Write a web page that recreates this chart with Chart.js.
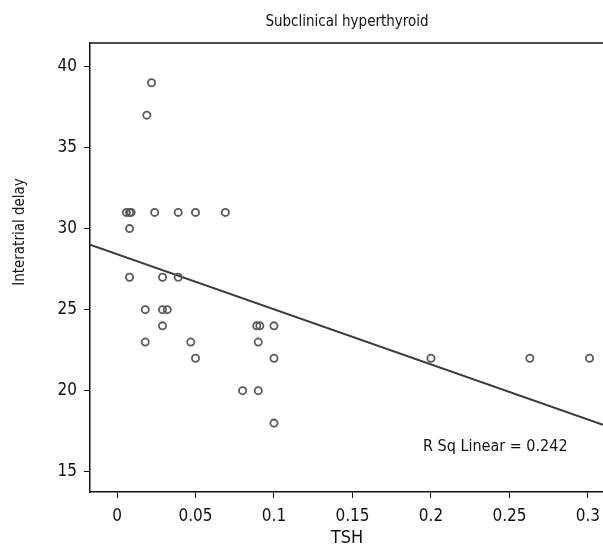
<!DOCTYPE html>
<html>
<head>
<meta charset="utf-8">
<script src="https://cdn.jsdelivr.net/npm/chart.js@4.4.1/dist/chart.umd.min.js"></script>
<style>
  body { margin: 0; background: #fff; }
  #wrap { width: 603px; height: 550px; }
</style>
</head>
<body>
<div id="wrap"><canvas id="scatter"></canvas></div>
<script>
// values
const tsh = [0.022, 0.019, 0.006, 0.008, 0.009, 0.024, 0.039, 0.05, 0.069, 0.008,
             0.008, 0.029, 0.039, 0.018, 0.029, 0.032, 0.029, 0.018, 0.047, 0.05,
             0.089, 0.091, 0.1, 0.09, 0.1, 0.08, 0.09, 0.1, 0.2, 0.263, 0.301];
const delay = [39, 37, 31, 31, 31, 31, 31, 31, 31, 30,
               27, 27, 27, 25, 25, 25, 24, 23, 23, 22,
               24, 24, 24, 23, 22, 20, 20, 18, 22, 22, 22];
// fit line ends as drawn
const fitX = [-0.0172, 0.3096];
const fitY = [29.0, 17.9];
const xTicks = [0, 0.05, 0.1, 0.15, 0.2, 0.25, 0.3];
const yTicks = [15, 20, 25, 30, 35, 40];
const chartTitle = "Subclinical hyperthyroid";
const xTitle = "TSH";
const yTitle = "Interatrial delay";
const rsqText = "R Sq Linear = 0.242";

const font = "'Liberation Sans Narrow', 'DejaVu Sans Condensed', 'Arial Narrow', sans-serif";

const points = tsh.map((v, i) => ({ x: v, y: delay[i] }));
const fitLine = fitX.map((v, i) => ({ x: v, y: fitY[i] }));

const extras = {
  id: "extras",
  afterDraw(chart) {
    const ctx = chart.ctx;
    const a = chart.chartArea;
    ctx.save();
    // top frame line
    ctx.strokeStyle = "#111";
    ctx.lineWidth = 1.5;
    ctx.beginPath();
    ctx.moveTo(a.left, a.top);
    ctx.lineTo(a.right, a.top);
    ctx.stroke();
    ctx.fillStyle = "#111";
    ctx.textAlign = "center";
    ctx.textBaseline = "middle";
    ctx.font = "15px " + font;
    ctx.fillText(chartTitle, 347, 22);
    ctx.font = "18px " + font;
    ctx.fillText(xTitle, 347, 538);
    ctx.save();
    ctx.translate(20, 232);
    ctx.rotate(-Math.PI / 2);
    ctx.font = "15px " + font;
    ctx.fillText(yTitle, 0, 0);
    ctx.restore();
    ctx.textAlign = "left";
    ctx.font = "16px " + font;
    ctx.fillText(rsqText, 423, 447);
    ctx.restore();
  }
};

new Chart(document.getElementById("scatter"), {
  type: "scatter",
  data: {
    datasets: [
      {
        label: "points",
        data: points,
        pointStyle: "circle",
        pointRadius: 3.6,
        pointBorderWidth: 1.8,
        pointBorderColor: "#5a5a5a",
        pointBackgroundColor: "rgba(255,255,255,0)"
      },
      {
        label: "fit",
        data: fitLine,
        showLine: true,
        pointRadius: 0,
        borderColor: "#3a3a3a",
        borderWidth: 2
      }
    ]
  },
  plugins: [extras],
  options: {
    responsive: true,
    maintainAspectRatio: false,
    animation: false,
    layout: { autoPadding: false, padding: { top: 43, right: 0, left: 0, bottom: 0 } },
    plugins: {
      legend: { display: false },
      tooltip: { enabled: false }
    },
    scales: {
      x: {
        type: "linear",
        min: fitX[0],
        max: fitX[1],
        afterBuildTicks: s => { s.ticks = xTicks.map(v => ({ value: v })); },
        afterFit: s => { s.height = 58; s.paddingRight = 0; s.paddingLeft = 0; },
        border: { display: true, color: "#111", width: 1.5 },
        grid: { drawOnChartArea: false, drawTicks: true, tickLength: 6, color: "#111" },
        ticks: {
          color: "#111",
          padding: 8,
          maxRotation: 0,
          font: { family: font, size: 17 },
          callback: v => String(v)
        }
      },
      y: {
        type: "linear",
        min: 13.75,
        max: 41.45,
        afterBuildTicks: s => { s.ticks = yTicks.map(v => ({ value: v })); },
        afterFit: s => { s.width = 90; s.paddingTop = 0; s.paddingBottom = 0; },
        border: { display: true, color: "#111", width: 1.5 },
        grid: { drawOnChartArea: false, drawTicks: true, tickLength: 6, color: "#111" },
        ticks: {
          color: "#111",
          padding: 7,
          font: { family: font, size: 17 },
          callback: v => String(v)
        }
      }
    }
  }
});
</script>
</body>
</html>
